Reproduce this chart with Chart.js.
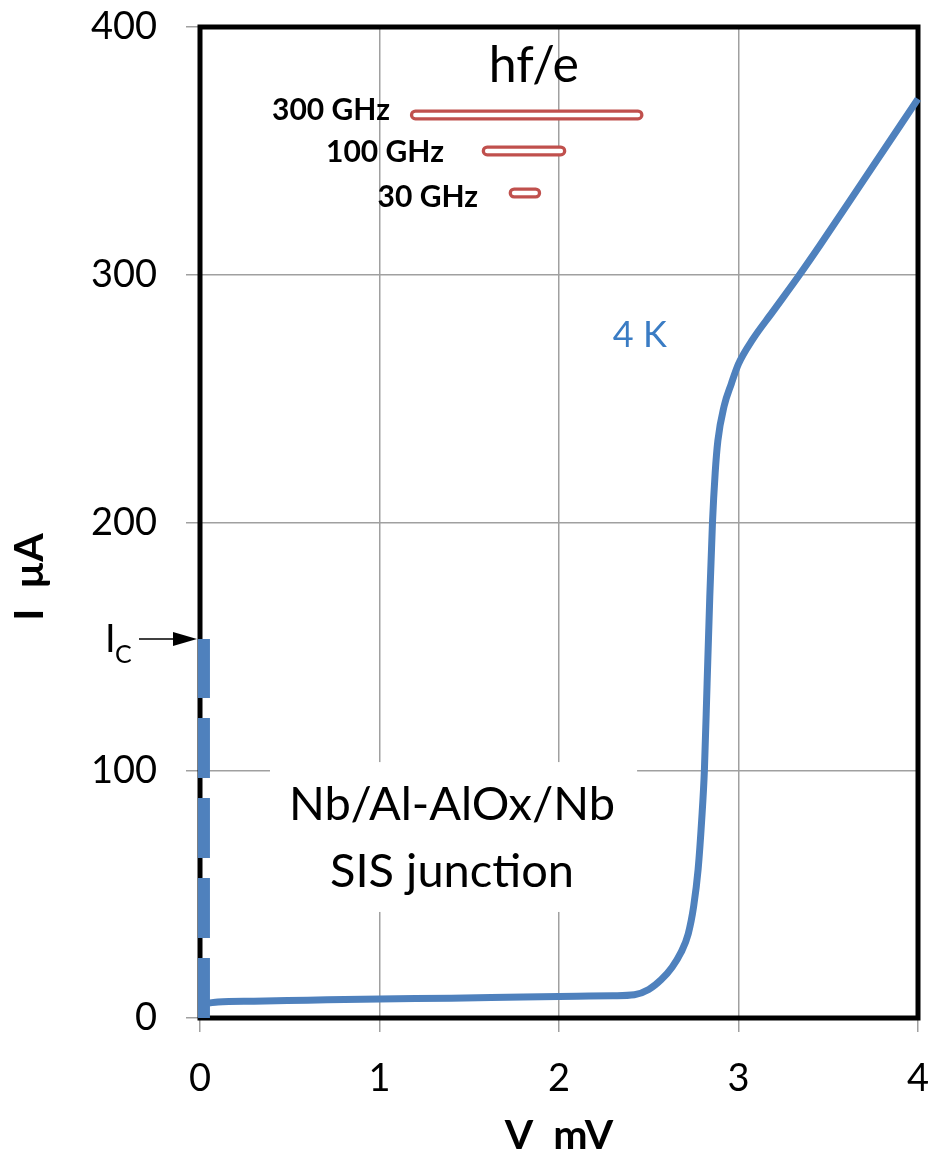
<!DOCTYPE html>
<html>
<head>
<meta charset="utf-8">
<script src="https://cdn.jsdelivr.net/npm/chart.js@4.4.1/dist/chart.umd.min.js"></script>
<style>
  html, body { margin: 0; padding: 0; background: #ffffff; }
  #wrap { width: 932px; height: 1159px; position: relative; }
</style>
</head>
<body>
<div id="wrap"><canvas id="c" width="932" height="1159"></canvas></div>
<script>
// ---- data ----
const curveV = [0.05, 0.1, 0.3, 0.6, 1.0, 1.4, 1.8, 2.1, 2.3, 2.42, 2.5, 2.57, 2.63, 2.68, 2.72, 2.75, 2.775, 2.795, 2.81, 2.825, 2.84, 2.855, 2.87, 2.885, 2.92, 2.96, 3.0, 3.08, 3.19, 3.34, 3.45, 3.7, 4.0];
const curveI = [6.0, 6.5, 6.8, 7.2, 7.7, 8.0, 8.5, 8.8, 9.0, 9.4, 11.5, 15.5, 20.5, 26.5, 34, 45, 60, 80, 100, 135, 170, 200, 220, 233, 247, 256, 264, 274, 285, 300, 311.5, 338.5, 371];

const icV = [0.022, 0.022];          // supercurrent branch at V ≈ 0
const icI = [0, 153];                // up to Ic

const bandLabels = ["300 GHz", "100 GHz", "30 GHz"];
const bandStart  = [1.20, 1.60, 1.75]; // mV
const bandEnd    = [2.44, 2.01, 1.87]; // mV
const bandLevel  = [364.5, 350, 333];  // µA (vertical placement)

const xTicks = [0, 1, 2, 3, 4];
const yTicks = [0, 100, 200, 300, 400];

const BLUE = "#4F81BD";
const RED = "#C0504D";
const GRID = "#a0a0a0";
const FONT = "Lato, 'Open Sans', sans-serif";

const pts = (xs, ys) => xs.map((x, i) => ({x: x, y: ys[i]}));

const datasets = [];
datasets.push({
  label: "4 K", data: pts(curveV, curveI), borderColor: BLUE, borderWidth: 7,
  pointRadius: 0, cubicInterpolationMode: "monotone", fill: false, order: 2, clip: false
});
datasets.push({
  label: "Ic", data: pts(icV, icI), borderColor: BLUE, borderWidth: 12,
  borderDash: [60, 20], borderCapStyle: "butt", pointRadius: 0, fill: false, order: 1, clip: false
});
bandLabels.forEach((lab, i) => {
  const d = [{x: bandStart[i], y: bandLevel[i]}, {x: bandEnd[i], y: bandLevel[i]}];
  datasets.push({label: lab + " outer", data: d, borderColor: RED, borderWidth: 11,
    borderCapStyle: "round", pointRadius: 0, fill: false, order: 4, clip: false});
  datasets.push({label: lab + " inner", data: d, borderColor: "#ffffff", borderWidth: 4.5,
    borderCapStyle: "round", pointRadius: 0, fill: false, order: 3, clip: false});
});

// text annotations, anchored in data units
const notes = {
  box: {v0: 0.39, v1: 2.435, i0: 42.8, i1: 103.3},
  line1: {v: 1.404, i: 79.9, text: "Nb/Al-AlOx/Nb"},
  line2: {v: 1.404, i: 52.9, text: "SIS junction"},
  hfe: {v: 1.86, i: 377.8, text: "hf/e"},
  temp: {v: 2.45, i: 270.8, text: "4 K"},
  bandText: [{v: 1.058, i: 362.5}, {v: 1.359, i: 345.5}, {v: 1.549, i: 327.5}],
  ic: 153,
  yTitle: {i: 178, text: "I  µA"}
};

const annot = {
  id: "annot",
  beforeDatasetsDraw(chart) {
    const {ctx, chartArea: a, scales: {x, y}} = chart;
    ctx.save();
    const bx0 = x.getPixelForValue(notes.box.v0), bx1 = x.getPixelForValue(notes.box.v1);
    const by0 = y.getPixelForValue(notes.box.i1), by1 = y.getPixelForValue(notes.box.i0);
    ctx.fillStyle = "#ffffff";
    ctx.fillRect(bx0, by0, bx1 - bx0, by1 - by0);
    ctx.strokeStyle = "#000000";
    ctx.lineWidth = 5;
    ctx.strokeRect(a.left, a.top, a.right - a.left, a.bottom - a.top);
    ctx.restore();
  },
  afterDatasetsDraw(chart) {
    const {ctx, chartArea: a, scales: {x, y}} = chart;
    ctx.save();
    ctx.fillStyle = "#000000";
    ctx.textBaseline = "alphabetic";
    ctx.textAlign = "center";
    ctx.font = "47px " + FONT;
    ctx.fillText(notes.line1.text, x.getPixelForValue(notes.line1.v), y.getPixelForValue(notes.line1.i));
    ctx.fillText(notes.line2.text, x.getPixelForValue(notes.line2.v), y.getPixelForValue(notes.line2.i));
    ctx.font = "50px " + FONT;
    ctx.fillText(notes.hfe.text, x.getPixelForValue(notes.hfe.v), y.getPixelForValue(notes.hfe.i));
    ctx.fillStyle = "#3A7CC4";
    ctx.font = "36px " + FONT;
    ctx.fillText(notes.temp.text, x.getPixelForValue(notes.temp.v), y.getPixelForValue(notes.temp.i));
    ctx.fillStyle = "#000000";
    ctx.textAlign = "right";
    ctx.font = "bold 30px " + FONT;
    bandLabels.forEach((lab, i) => {
      ctx.fillText(lab, x.getPixelForValue(notes.bandText[i].v), y.getPixelForValue(notes.bandText[i].i));
    });
    const yy = y.getPixelForValue(notes.ic);
    const tip = a.left - 3;
    ctx.strokeStyle = "#000000";
    ctx.lineWidth = 1.5;
    ctx.beginPath();
    ctx.moveTo(tip - 58, yy);
    ctx.lineTo(tip - 20, yy);
    ctx.stroke();
    ctx.beginPath();
    ctx.moveTo(tip, yy);
    ctx.lineTo(tip - 24, yy - 7);
    ctx.lineTo(tip - 24, yy + 7);
    ctx.closePath();
    ctx.fill();
    ctx.textAlign = "left";
    ctx.font = "38px " + FONT;
    ctx.fillText("I", tip - 92, yy + 13);
    ctx.font = "25px " + FONT;
    ctx.fillText("C", tip - 82, yy + 24);
    // y-axis title (placed lower than centre, as in the reference)
    ctx.translate(30, y.getPixelForValue(notes.yTitle.i));
    ctx.rotate(-Math.PI / 2);
    ctx.textAlign = "center";
    ctx.textBaseline = "middle";
    ctx.font = "bold 41px " + FONT;
    ctx.fillText(notes.yTitle.text, 0, 0);
    ctx.restore();
  }
};

const zeroPad = (s) => { s.paddingLeft = 0; s.paddingRight = 0; s.paddingTop = 0; s.paddingBottom = 0; };

new Chart(document.getElementById("c"), {
  type: "line",
  data: {datasets: datasets},
  options: {
    responsive: false,
    animation: false,
    events: [],
    layout: {padding: {left: 0, right: 14, top: 27, bottom: 0}},
    plugins: {legend: {display: false}, tooltip: {enabled: false}},
    scales: {
      x: {
        type: "linear", min: 0, max: 4,
        afterBuildTicks: (s) => { s.ticks = xTicks.map(v => ({value: v})); },
        afterFit: (s) => { s.height = 141; zeroPad(s); },
        grid: {color: GRID, lineWidth: 1.5, tickLength: 14, drawTicks: true, tickColor: GRID},
        border: {display: false},
        ticks: {color: "#000", padding: 24, font: {family: FONT, size: 38}, maxRotation: 0},
        title: {display: true, text: "V  mV", color: "#000",
          font: {family: FONT, size: 41, weight: "bold", lineHeight: 1}, padding: {top: 0, bottom: 3}}
      },
      y: {
        type: "linear", min: 0, max: 400,
        afterBuildTicks: (s) => { s.ticks = yTicks.map(v => ({value: v})); },
        afterFit: (s) => { s.width = 200; zeroPad(s); },
        grid: {color: GRID, lineWidth: 1.5, tickLength: 14, drawTicks: true, tickColor: GRID},
        border: {display: false},
        ticks: {color: "#000", padding: 29, font: {family: FONT, size: 38}},
        title: {display: false}
      }
    }
  },
  plugins: [annot]
});
</script>
</body>
</html>
